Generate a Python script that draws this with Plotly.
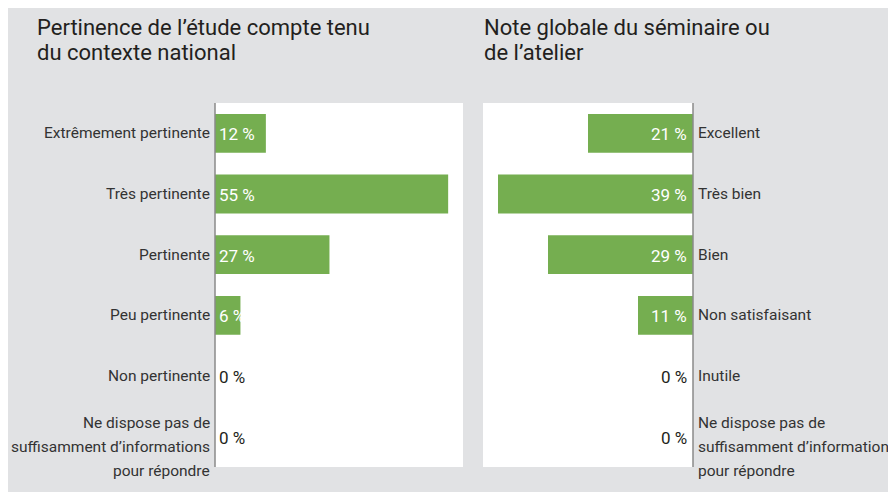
import plotly.graph_objects as go

# The page body adds an 8px margin; the figure sits at (8, 8) in the window.
W, H = 888, 484

left_title = ["Pertinence de l’étude compte tenu", "du contexte national"]
right_title = ["Note globale du séminaire ou", "de l’atelier"]

left_categories = ["Extrêmement pertinente", "Très pertinente", "Pertinente",
                   "Peu pertinente", "Non pertinente",
                   "Ne dispose pas de<br>suffisamment d’informations<br>pour répondre"]
left_values = [12, 55, 27, 6, 0, 0]

right_categories = ["Excellent", "Très bien", "Bien", "Non satisfaisant", "Inutile",
                    "Ne dispose pas de<br>suffisamment d’informations<br>pour répondre"]
right_values = [21, 39, 29, 11, 0, 0]

GREEN = "#75ae50"
GREY_BG = "#e1e2e4"
DARK = "#231f20"
LABEL = "#333333"
FONT = "Roboto, Arial, sans-serif"

left_ids = [f"L{i}" for i in range(len(left_categories))]
right_ids = [f"R{i}" for i in range(len(right_categories))]

# pixel geometry in figure coordinates
LX0, LX1 = 207, 455
RX0, RX1 = 475, 685
PY0, PY1 = 95, 459

fig = go.Figure()
fig.add_trace(go.Bar(y=left_ids, x=left_values, orientation="h", marker_color=GREEN,
                     marker_line_width=0, xaxis="x", yaxis="y", hoverinfo="skip",
                     width=0.64))
fig.add_trace(go.Bar(y=right_ids, x=right_values, orientation="h", marker_color=GREEN,
                     marker_line_width=0, xaxis="x2", yaxis="y2", hoverinfo="skip",
                     width=0.64))

ydom = [(H - PY1) / H, (H - PY0) / H]
fig.update_layout(
    width=W, height=H, margin=dict(l=0, r=0, t=0, b=0),
    paper_bgcolor=GREY_BG, plot_bgcolor="white", showlegend=False,
    font=dict(family=FONT, color=LABEL),
    xaxis=dict(domain=[LX0 / W, LX1 / W], range=[0, 58.5], visible=False, fixedrange=True),
    yaxis=dict(domain=ydom, categoryorder="array", categoryarray=left_ids,
               autorange="reversed", showticklabels=False, showgrid=False,
               zeroline=False, showline=False, ticks=""),
    xaxis2=dict(domain=[RX0 / W, RX1 / W], range=[42, 0], visible=False, fixedrange=True,
                anchor="y2"),
    yaxis2=dict(domain=ydom, categoryorder="array", categoryarray=right_ids,
                autorange="reversed", showticklabels=False, showgrid=False,
                zeroline=False, showline=False, ticks="", anchor="x2"),
)

shapes = [
    dict(type="line", xref="paper", yref="paper", x0=LX0 / W, x1=LX0 / W, y0=ydom[0], y1=ydom[1],
         line=dict(color="#8a8a8a", width=1.5)),
    dict(type="line", xref="paper", yref="paper", x0=RX1 / W, x1=RX1 / W, y0=ydom[0], y1=ydom[1],
         line=dict(color="#8a8a8a", width=1.5)),
]
fig.update_layout(shapes=shapes)

ann = []
for tx, lines in ((27, left_title), (474, right_title)):
    for i, line in enumerate(lines):
        ann.append(dict(text=line, xref="paper", yref="paper", x=tx / W, y=1 - (5 + 25 * i) / H,
                        xanchor="left", yanchor="top", align="left", showarrow=False,
                        font=dict(size=22, color=DARK, family=FONT)))

LINE_SHIFTS = [13.5, -10.5, -34.5]


def add_category(cat, cid, yref, x, xanchor):
    parts = cat.split("<br>")
    shifts = [0] if len(parts) == 1 else LINE_SHIFTS[:len(parts)]
    for part, s in zip(parts, shifts):
        ann.append(dict(text=part, xref="paper", yref=yref, x=x / W, y=cid, xanchor=xanchor,
                        yanchor="middle", showarrow=False, yshift=s,
                        font=dict(size=15.5, color=LABEL, family=FONT)))


for cid, cat, v in zip(left_ids, left_categories, left_values):
    add_category(cat, cid, "y", LX0 - 3, "right")
    ann.append(dict(text=f"{v} %", xref="x", yref="y", x=0, y=cid, xanchor="left",
                    yanchor="middle", showarrow=False, xshift=2, yshift=-1,
                    font=dict(size=17, color="white" if v > 0 else DARK, family=FONT)))

for cid, cat, v in zip(right_ids, right_categories, right_values):
    add_category(cat, cid, "y2", RX1 + 3, "left")
    ann.append(dict(text=f"{v} %", xref="x2", yref="y2", x=0, y=cid, xanchor="right",
                    yanchor="middle", showarrow=False, xshift=-4, yshift=-1,
                    font=dict(size=17, color="white" if v > 0 else DARK, family=FONT)))

fig.update_layout(annotations=ann)
fig.write_html("out.html")
